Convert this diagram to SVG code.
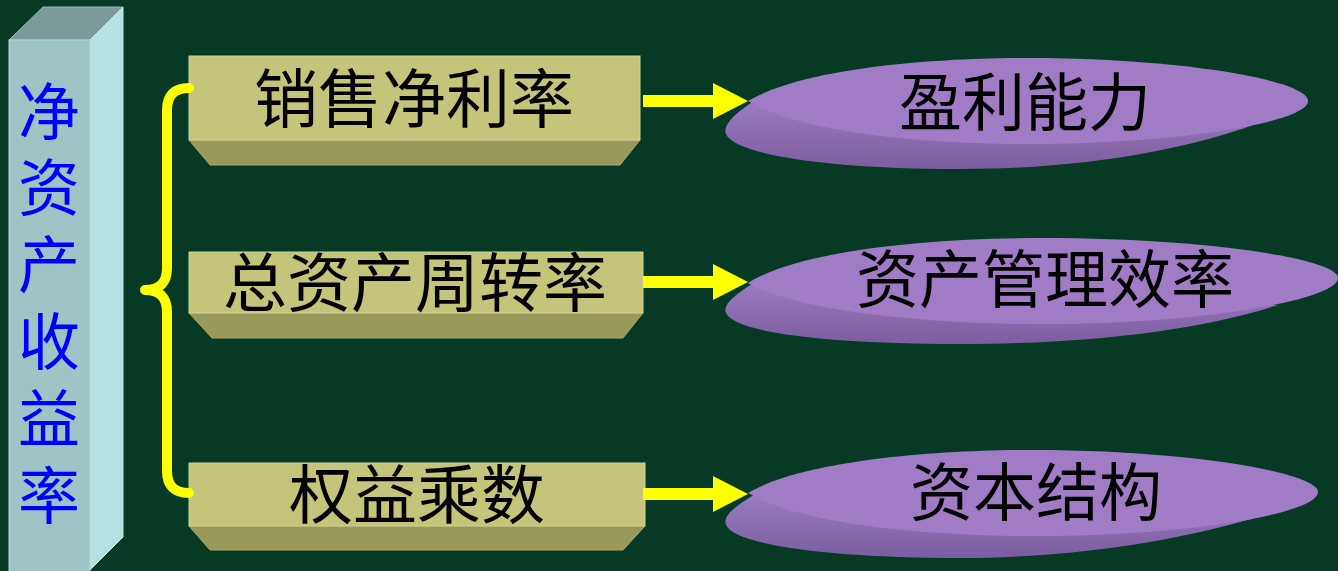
<svg xmlns="http://www.w3.org/2000/svg" width="1338" height="571" viewBox="0 0 1338 571">
<style>
.cf{fill:#9DC5C5;stroke:#B8D8D8;stroke-width:1}
.ct{fill:#7D9A9A;stroke:#9FB8B8;stroke-width:1}
.cr{fill:#B4E1E1;stroke:#C8ECEC;stroke-width:1}
.ctx{font-family:"Noto Sans CJK SC",sans-serif;font-size:62px;fill:#0000FF;writing-mode:vertical-rl;letter-spacing:14.8px}
.bf{fill:#C4C47A;stroke:#D2D292;stroke-width:1}
.bb{fill:#9A995C;stroke:#A8A870;stroke-width:1}
.btx{font-family:"Noto Sans CJK SC",sans-serif;font-size:64px;fill:#000;text-anchor:middle}
.es{fill:url(#side)}
.et{fill:#A17CC6}
.etx{font-family:"Noto Sans CJK SC",sans-serif;font-size:63px;fill:#000;text-anchor:middle}
.brace{fill:none;stroke:#FFFF00;stroke-width:10;stroke-linecap:round;stroke-linejoin:round}
.arr{stroke:#FFFF00;stroke-width:12;fill:none}
</style>
<defs>
<linearGradient id="side" x1="0" y1="0" x2="0" y2="1">
<stop offset="0" stop-color="#9A7AC2"/>
<stop offset="1" stop-color="#7B5E9E"/>
</linearGradient>
<marker id="head" markerUnits="userSpaceOnUse" markerWidth="36" markerHeight="37" refX="0" refY="18" orient="auto" viewBox="0 0 36 37">
<path d="M0,0 L35,18 L0,36 Z" fill="#FFFF00"/>
</marker>
</defs>
<rect x="0" y="0" width="1338" height="571" fill="#063A24"/>

<g id="roe">
<polygon class="ct" points="9,40 43,7 123,7 90,40"/>
<polygon class="cr" points="90,40 123,7 123,537 90,570"/>
<rect class="cf" x="9" y="40" width="81" height="540"/>
<text class="ctx" x="49" y="80">净资产收益率</text>
</g>

<g id="box-sales-margin">
<polygon class="bb" points="189,140 640,140 620,165 210,165"/>
<rect class="bf" x="189" y="56" width="451" height="84"/>
<text class="btx" x="414" y="122">销售净利率</text>
</g>
<g id="box-asset-turnover">
<polygon class="bb" points="189,313 643,313 623,338 212,338"/>
<rect class="bf" x="189" y="252" width="454" height="61"/>
<text class="btx" x="415" y="306">总资产周转率</text>
</g>
<g id="box-equity-multiplier">
<polygon class="bb" points="189,526 645,526 623,550 210,550"/>
<rect class="bf" x="189" y="463" width="456" height="63"/>
<text class="btx" x="417" y="518">权益乘数</text>
</g>

<g id="ell-profitability">
<path class="es" d="M752,102 C738,112 722,124 726,134 C735,155 830,169 960,169 C1090,169 1210,148 1300,106 Z"/>
<path class="et" d="M748,101 C800,70 920,58 1028,58 C1180,58 1308,80 1308,101 C1308,122 1180,144 1028,144 C920,144 800,132 748,101 Z"/>
<text class="etx" x="1025" y="125">盈利能力</text>
</g>
<g id="ell-asset-efficiency">
<path class="es" d="M752,284 C738,293 722,304 726,313 C735,333 830,344 960,344 C1090,344 1200,330 1278,305 Z"/>
<path class="et" d="M748,283 C800,250 930,238 1043,238 C1200,238 1338,258 1338,278 C1338,300 1200,324 1043,324 C930,324 800,312 748,283 Z"/>
<text class="etx" x="1045" y="302">资产管理效率</text>
</g>
<g id="ell-capital-structure">
<path class="es" d="M752,496 C738,505 722,515 726,525 C735,545 830,558 960,558 C1090,558 1210,535 1295,505 Z"/>
<path class="et" d="M748,493 C800,462 925,450 1033,450 C1185,450 1318,472 1318,492 C1318,514 1185,536 1033,536 C925,536 800,524 748,493 Z"/>
<text class="etx" x="1036" y="515">资本结构</text>
</g>

<g id="connectors">
<path class="brace" d="M189,88 Q167,88 167,110 L167,268 Q167,290 145,290 Q167,290 167,312 L167,471 Q167,493 189,493"/>
<line class="arr" x1="643" y1="101" x2="713" y2="101" marker-end="url(#head)"/>
<line class="arr" x1="643" y1="282" x2="713" y2="282" marker-end="url(#head)"/>
<line class="arr" x1="643" y1="494" x2="713" y2="494" marker-end="url(#head)"/>
</g>
</svg>
